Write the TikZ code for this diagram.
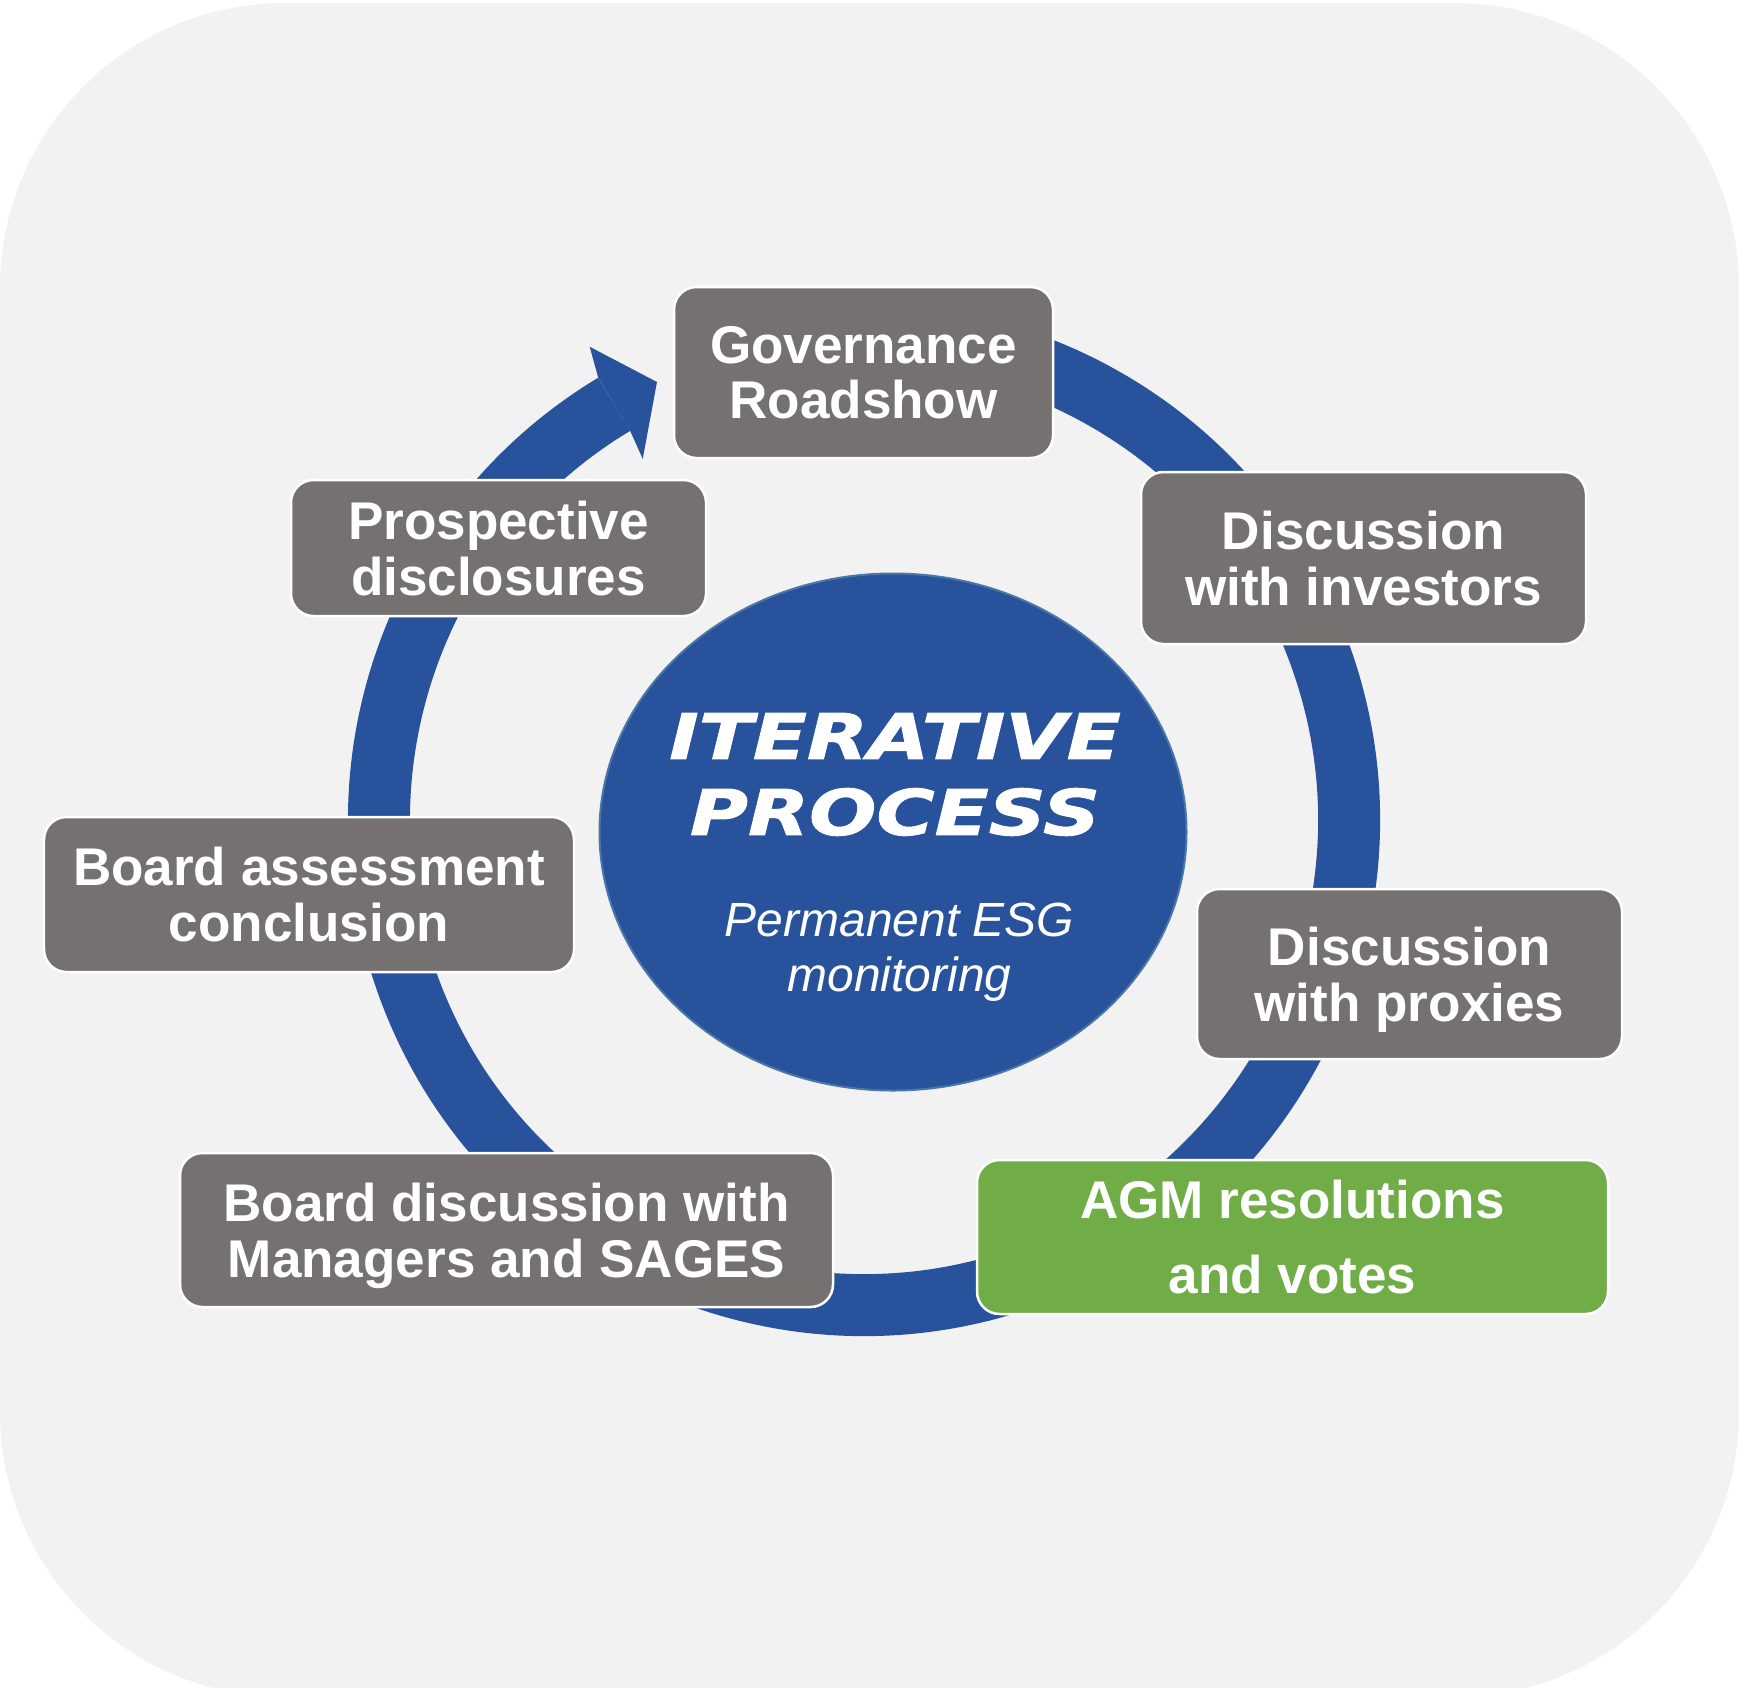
\documentclass[tikz,border=0pt]{standalone}
\usepackage{fontspec}
\setmainfont{Liberation Sans}
\newfontfamily\widefont[FakeStretch=1.26,FakeBold=1.6]{DejaVu Sans}
\usepackage{xcolor}
\usepackage{tikz}
\usetikzlibrary{shapes.geometric}
\definecolor{bggray}{HTML}{F2F2F2}
\definecolor{ringblue}{HTML}{28529B}
\definecolor{rimblue}{HTML}{4A76A8}
\definecolor{boxgray}{HTML}{767171}
\definecolor{agmgreen}{HTML}{70AD47}
\tikzset{
  stepbox/.style={draw=white,line width=0.05cm,fill=boxgray,rounded corners=0.45cm,text=white,align=center,inner sep=0pt,text depth=0pt,font=\fontsize{30.2}{31.6}\selectfont\bfseries},
  votebox/.style={stepbox,fill=agmgreen,font=\fontsize{30.2}{42.7}\selectfont\bfseries},
  ring/.style={draw=ringblue,line width=1.24cm},
  core/.style={ellipse,draw=rimblue,line width=0.04cm,fill=ringblue,inner sep=0pt,minimum width=11.74cm,minimum height=10.34cm},
  title/.style={text=white,align=center,inner sep=0pt,text depth=0pt,font=\widefont\fontsize{35.8}{43.2}\selectfont\bfseries\itshape},
  subtitle/.style={text=white,align=center,inner sep=0pt,text depth=0pt,font=\fontsize{27.3}{31.3}\selectfont\itshape}
}
\begin{document}
\begin{tikzpicture}
  \useasboundingbox (0,0) rectangle (34.84,-33.74);
  \fill[bggray,rounded corners=5.7cm] (0,-0.06) rectangle (34.78,-33.94);
  \coordinate (c) at (17.28,-16.40);
  \draw[ring] (c) ++(110:9.70) arc (110:-239:9.70);
  \begin{scope}[shift={(c)}]
    \fill[ringblue] (121:10.32) -- (120.1:10.94) -- (115.3:9.69) -- (121.5:8.47) -- (121:9.08) -- cycle;
  \end{scope}
  \node[core] (iter) at (17.86,-16.64) {};
  \node[title] (itertext) at (17.9,-15.48) {ITERATIVE\\PROCESS};
  \node[subtitle] (esg) at (17.99,-18.95) {Permanent ESG\\monitoring};
  \node[stepbox,minimum width=7.58cm,minimum height=3.42cm] (gov) at (17.27,-7.45) {Governance\\Roadshow};
  \node[stepbox,minimum width=8.90cm,minimum height=3.44cm] (inv) at (27.27,-11.16) {Discussion\\with investors};
  \node[stepbox,minimum width=8.50cm,minimum height=3.40cm] (prox) at (28.19,-19.48) {Discussion\\with proxies};
  \node[votebox,minimum width=12.62cm,minimum height=3.08cm] (agm) at (25.85,-24.74) {AGM resolutions\\and votes};
  \node[stepbox,minimum width=13.06cm,minimum height=3.08cm] (bdisc) at (10.13,-24.60) {Board discussion with\\Managers and SAGES};
  \node[stepbox,minimum width=10.60cm,minimum height=3.10cm] (assess) at (6.18,-17.89) {Board assessment\\conclusion};
  \node[stepbox,minimum width=8.30cm,minimum height=2.72cm] (pros) at (9.97,-10.96) {Prospective\\disclosures};
\end{tikzpicture}
\end{document}
